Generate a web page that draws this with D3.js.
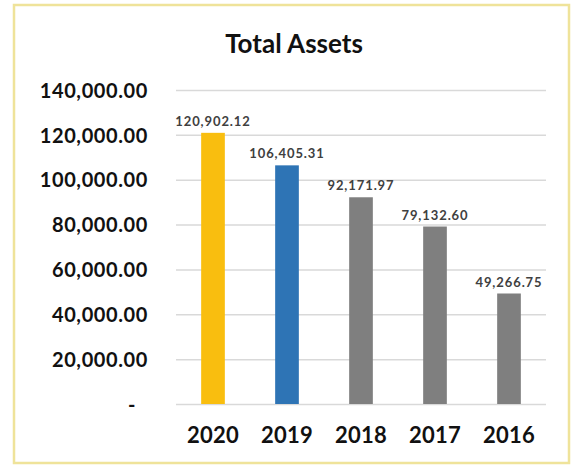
<!DOCTYPE html>
<html>
<head>
<meta charset="utf-8">
<script src="https://cdn.jsdelivr.net/npm/d3@7/dist/d3.min.js"></script>
<style>
  html, body { margin: 0; padding: 0; background: #ffffff; }
  svg { display: block; }
  text { font-family: "Lato", "DejaVu Sans", sans-serif; }
</style>
</head>
<body>
<svg id="chart" width="572" height="465"></svg>
<script>
// Total assets by year
const years = ["2020", "2019", "2018", "2017", "2016"];
const totalAssets = [120902.12, 106405.31, 92171.97, 79132.60, 49266.75];
const barColors = ["#F9BE0F", "#2E74B5", "#7F7F7F", "#7F7F7F", "#7F7F7F"];
const yTicks = [0, 20000, 40000, 60000, 80000, 100000, 120000, 140000];
const title = "Total Assets";

const plot = { left: 176, right: 546, top: 90, bottom: 404 };

const svg = d3.select("#chart");

// outer frame
svg.append("rect")
  .attr("x", 14).attr("y", 5)
  .attr("width", 555).attr("height", 458)
  .attr("fill", "#ffffff")
  .attr("stroke", "#EFE39A")
  .attr("stroke-width", 2.5);

svg.append("text")
  .attr("x", 294).attr("y", 53)
  .attr("text-anchor", "middle")
  .attr("font-size", 26)
  .attr("font-weight", 700)
  .attr("fill", "#111")
  .text(title);

const x = d3.scaleBand()
  .domain(years)
  .range([plot.left, plot.right])
  .paddingInner(0.68)
  .paddingOuter(0.34);

const y = d3.scaleLinear()
  .domain([0, 140000])
  .range([plot.bottom, plot.top]);

const fmt = d3.format(",.2f");

// gridlines + y labels
const yAxis = d3.axisLeft(y)
  .tickValues(yTicks)
  .tickSize(-(plot.right - plot.left))
  .tickPadding(0)
  .tickFormat(d => d === 0 ? "-" : fmt(d));

const gy = svg.append("g")
  .attr("transform", `translate(${plot.left},0)`)
  .call(yAxis);
gy.select(".domain").remove();
gy.selectAll(".tick line")
  .attr("stroke", "#D9D9D9")
  .attr("stroke-width", 1.5);
gy.selectAll(".tick text")
  .attr("x", d => d === 0 ? -40 : -28)
  .attr("dy", "0.36em")
  .attr("font-size", 20)
  .attr("font-weight", 700)
  .attr("letter-spacing", 0.6)
  .attr("fill", "#111");

// bars
svg.append("g").selectAll("rect")
  .data(years)
  .join("rect")
  .attr("x", d => x(d))
  .attr("width", x.bandwidth())
  .attr("y", (d, i) => y(totalAssets[i]))
  .attr("height", (d, i) => y(0) - y(totalAssets[i]))
  .attr("fill", (d, i) => barColors[i]);

// value labels
svg.append("g").selectAll("text")
  .data(years)
  .join("text")
  .attr("x", d => x(d) + x.bandwidth() / 2)
  .attr("y", (d, i) => y(totalAssets[i]) - 7)
  .attr("text-anchor", "middle")
  .attr("font-size", 13)
  .attr("font-weight", 700)
  .attr("letter-spacing", 0.9)
  .attr("fill", "#404040")
  .text((d, i) => fmt(totalAssets[i]));

// x axis labels
const xAxis = d3.axisBottom(x).tickSize(0).tickPadding(0);
const gx = svg.append("g")
  .attr("transform", `translate(0,${plot.bottom})`)
  .call(xAxis);
gx.select(".domain").remove();
gx.selectAll(".tick text")
  .attr("y", 39)
  .attr("dy", 0)
  .attr("font-size", 22)
  .attr("font-weight", 700)
  .attr("letter-spacing", 0.3)
  .attr("fill", "#111");
</script>
</body>
</html>
